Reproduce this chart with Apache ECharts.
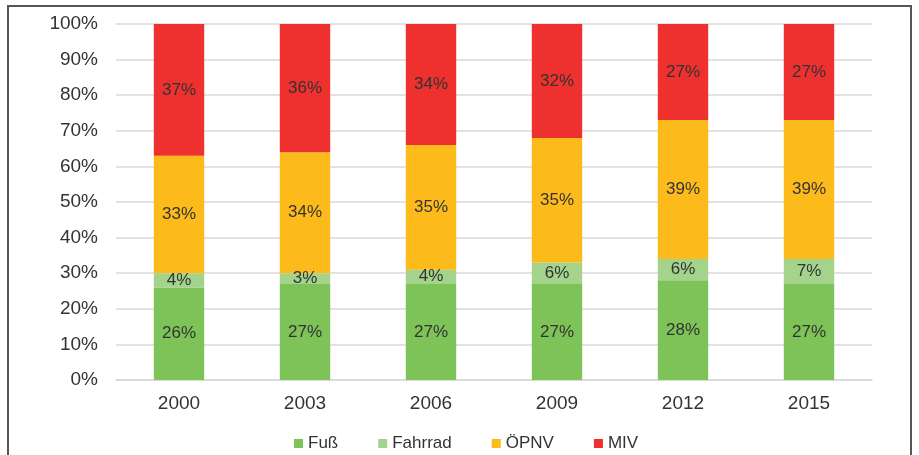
<!DOCTYPE html>
<html><head><meta charset="utf-8">
<script src="https://cdn.jsdelivr.net/npm/echarts@6/dist/echarts.min.js"></script>
<style>html,body{margin:0;padding:0;background:#fff}#c{width:919px;height:455px}</style>
</head><body><div id="c"></div>
<script>
const categories = ['2000','2003','2006','2009','2012','2015'];
const fuss    = [26,27,27,27,28,27];
const fahrrad = [4,3,4,6,6,7];
const oepnv   = [33,34,35,35,39,39];
const miv     = [37,36,34,32,27,27];
const yTicks  = [0,10,20,30,40,50,60,70,80,90,100];

const font = 'Liberation Sans, Arial, sans-serif';
function bar(name, data, color){
  return {
    name, type:'bar', stack:'s', data, barWidth:'40%',
    itemStyle:{color},
    label:{show:true, position:'inside', formatter:'{c}%', color:'#333', fontSize:17, fontFamily:font},
    emphasis:{disabled:true}
  };
}
const chart = echarts.init(document.getElementById('c'), null, {renderer:'canvas'});
chart.setOption({
  animation:false,
  backgroundColor:'#fff',
  grid:{left:116, right:47, top:24, bottom:75},
  legend:{
    data:['Fuß','Fahrrad','ÖPNV','MIV'],
    left:289, top:430, itemWidth:9, itemHeight:9, itemGap:40,
    icon:'rect',
    textStyle:{fontSize:17, color:'#333', fontFamily:font}
  },
  xAxis:{
    type:'category', data:categories,
    axisLine:{lineStyle:{color:'#d9d9d9', width:1.5}},
    axisTick:{show:false},
    axisLabel:{fontSize:19, color:'#333', fontFamily:font, margin:14}
  },
  yAxis:{
    type:'value', min:yTicks[0], max:yTicks[yTicks.length-1], interval:10,
    axisLabel:{fontSize:19, color:'#333', fontFamily:font, margin:18, formatter:'{value}%'},
    splitLine:{lineStyle:{color:'#d9d9d9', width:1.5}},
    axisLine:{show:false}, axisTick:{show:false}
  },
  series:[
    bar('Fuß', fuss, '#7dc357'),
    bar('Fahrrad', fahrrad, '#a4d48c'),
    bar('ÖPNV', oepnv, '#fdba1b'),
    bar('MIV', miv, '#ee312f')
  ],
  graphic:[{
    type:'rect', shape:{x:8, y:6, width:903, height:460},
    style:{fill:'none', stroke:'#555', lineWidth:2}, silent:true
  }]
});
</script></body></html>
